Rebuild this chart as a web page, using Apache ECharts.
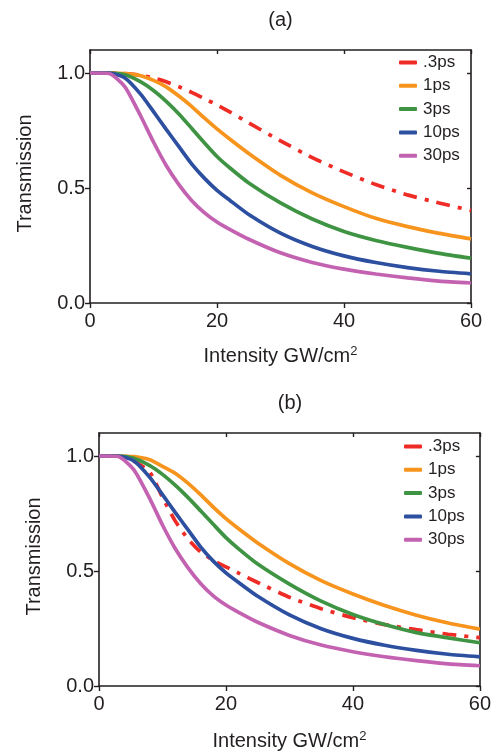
<!DOCTYPE html>
<html>
<head>
<meta charset="utf-8">
<script src="https://cdn.jsdelivr.net/npm/echarts@6/dist/echarts.min.js"></script>
<style>
html,body{margin:0;padding:0;background:#fff;}
#chart{width:494px;height:753px;}
</style>
</head>
<body>
<div id="chart"></div>
<script>
// ---- data ----
const seriesNames = ['.3ps', '1ps', '3ps', '10ps', '30ps'];
const intensity = [0, 3, 5.5, 8, 10, 12, 14, 16, 18, 20, 22, 25, 30, 35, 40, 45, 50, 55, 60];

// panel (a)
const a_03ps = [1.0, 1.0, 0.997, 0.99, 0.978, 0.962, 0.94, 0.916, 0.889, 0.861, 0.831, 0.783, 0.705, 0.632, 0.57, 0.515, 0.47, 0.435, 0.402];
const a_1ps  = [1.0, 1.0, 0.997, 0.988, 0.968, 0.94, 0.9, 0.855, 0.805, 0.757, 0.713, 0.65, 0.555, 0.479, 0.419, 0.368, 0.332, 0.303, 0.279];
const a_3ps  = [1.0, 1.0, 0.992, 0.961, 0.924, 0.877, 0.822, 0.76, 0.697, 0.637, 0.588, 0.522, 0.435, 0.365, 0.311, 0.272, 0.242, 0.216, 0.195];
const a_10ps = [1.0, 1.0, 0.978, 0.907, 0.832, 0.755, 0.68, 0.605, 0.543, 0.49, 0.447, 0.385, 0.304, 0.246, 0.205, 0.176, 0.154, 0.138, 0.127];
const a_30ps = [1.0, 0.998, 0.94, 0.812, 0.7, 0.598, 0.515, 0.446, 0.393, 0.352, 0.32, 0.277, 0.218, 0.176, 0.147, 0.126, 0.109, 0.095, 0.087];

// panel (b)
const b_03ps = [1.0, 1.0, 0.978, 0.93, 0.82, 0.718, 0.64, 0.583, 0.546, 0.518, 0.491, 0.45, 0.386, 0.336, 0.297, 0.267, 0.245, 0.225, 0.21];
const b_1ps  = [1.0, 1.0, 0.997, 0.984, 0.955, 0.925, 0.882, 0.832, 0.778, 0.728, 0.684, 0.622, 0.532, 0.458, 0.4, 0.35, 0.308, 0.274, 0.247];
const b_3ps  = [1.0, 1.0, 0.99, 0.958, 0.92, 0.873, 0.82, 0.762, 0.703, 0.645, 0.596, 0.53, 0.443, 0.369, 0.311, 0.267, 0.232, 0.209, 0.188];
const b_10ps = [1.0, 1.0, 0.978, 0.907, 0.832, 0.755, 0.68, 0.605, 0.543, 0.492, 0.45, 0.39, 0.309, 0.249, 0.207, 0.177, 0.155, 0.138, 0.127];
const b_30ps = [1.0, 0.998, 0.94, 0.815, 0.7, 0.598, 0.515, 0.446, 0.392, 0.352, 0.32, 0.277, 0.22, 0.178, 0.149, 0.127, 0.11, 0.096, 0.088];

const xTicks = [0, 20, 40, 60];
const yTicks = [0, 0.5, 1.0];
const panelTitles = ['(a)', '(b)'];
const xTitle = 'Intensity GW/cm';
const yTitle = 'Transmission';

// ---- styling ----
const colors = ['#ee2b25', '#f7941d', '#3f9443', '#2d4fa0', '#c462b2'];
const ink = '#231f20';
const FONT = 'Liberation Sans, Arial, sans-serif';

const grids = [
  {left: 90, top: 50, width: 381, height: 253},
  {left: 99, top: 433, width: 382, height: 254}
];

function zip(ys) { return intensity.map((x, i) => [x, ys[i]]); }

const panelData = [
  [a_03ps, a_1ps, a_3ps, a_10ps, a_30ps],
  [b_03ps, b_1ps, b_3ps, b_10ps, b_30ps]
];

const xAxes = [], yAxes = [], series = [], legends = [], graphics = [];

grids.forEach((g, gi) => {
  xAxes.push({
    type: 'value', gridIndex: gi, position: 'bottom', min: 0, max: 60, interval: 20,
    name: xTitle + '{sup|2}', nameLocation: 'middle', nameGap: gi === 0 ? 42 : 44,
    nameTextStyle: {color: ink, fontFamily: FONT, fontSize: 20, lineHeight: 22,
      rich: {sup: {fontSize: 13, fontFamily: FONT, color: ink, verticalAlign: 'top', lineHeight: 13, padding: [0, 0, 9, 0]}}},
    axisLine: {show: true, onZero: false, lineStyle: {color: ink, width: 1.6}},
    axisTick: {show: true, inside: false, length: 5, lineStyle: {color: ink, width: 1.4}, customValues: xTicks},
    axisLabel: {show: true, margin: 8, color: ink, fontFamily: FONT, fontSize: 20, customValues: xTicks},
    splitLine: {show: false}
  });
  xAxes.push({
    type: 'value', gridIndex: gi, position: 'top', min: 0, max: 60, interval: 20,
    axisLine: {show: true, onZero: false, lineStyle: {color: ink, width: 1.6}},
    axisTick: {show: true, inside: true, length: 4, lineStyle: {color: ink, width: 1.4}},
    axisLabel: {show: false}, splitLine: {show: false}
  });
  yAxes.push({
    type: 'value', gridIndex: gi, position: 'left', min: 0, max: 1.1,
    name: yTitle, nameLocation: 'middle', nameGap: 55, nameRotate: 90,
    nameTextStyle: {color: ink, fontFamily: FONT, fontSize: 20, padding: [0, 0, 0, 6]},
    axisLine: {show: true, onZero: false, lineStyle: {color: ink, width: 1.6}},
    axisTick: {show: true, inside: false, length: 5, lineStyle: {color: ink, width: 1.4}, customValues: yTicks},
    axisLabel: {show: true, margin: 5, color: ink, fontFamily: FONT, fontSize: 20,
      customValues: yTicks, formatter: v => v.toFixed(1)},
    splitLine: {show: false}
  });
  yAxes.push({
    type: 'value', gridIndex: gi, position: 'right', min: 0, max: 1.1,
    axisLine: {show: true, onZero: false, lineStyle: {color: ink, width: 1.6}},
    axisTick: {show: true, inside: true, length: 4, lineStyle: {color: ink, width: 1.4}, customValues: yTicks},
    axisLabel: {show: false}, splitLine: {show: false}
  });

  panelData[gi].forEach((ys, si) => {
    series.push({
      type: 'line', name: seriesNames[si], xAxisIndex: gi * 2, yAxisIndex: gi * 2,
      data: zip(ys), symbol: 'none', smooth: 0.2, z: 2 + si,
      color: colors[si],
      lineStyle: {color: colors[si], width: 3.7, type: si === 0 ? [14, 8, 4, 8] : 'solid', cap: 'butt'},
      emphasis: {disabled: true}
    });
  });

  legends.push({
    orient: 'vertical',
    left: gi === 0 ? 399 : 404,
    top: gi === 0 ? 54 : 438,
    padding: 0,
    itemWidth: 18, itemHeight: 4, itemGap: 6.3, icon: 'roundRect',
    data: seriesNames,
    selectedMode: false,
    textStyle: {color: ink, fontFamily: FONT, fontSize: 17, lineHeight: 17, padding: [0, 0, 0, 1]},
    itemStyle: {borderWidth: 0}
  });

  graphics.push({
    type: 'text', x: g.left + g.width / 2, y: gi === 0 ? 20 : 403,
    style: {text: panelTitles[gi], fill: ink, font: '20px ' + FONT, align: 'center', verticalAlign: 'middle'}
  });
});

const chart = echarts.init(document.getElementById('chart'), null, {renderer: 'canvas'});
chart.setOption({
  animation: false,
  backgroundColor: '#ffffff',
  grid: grids.map(g => Object.assign({containLabel: false}, g)),
  xAxis: xAxes,
  yAxis: yAxes,
  legend: legends,
  graphic: graphics,
  series: series
});
</script>
</body>
</html>
